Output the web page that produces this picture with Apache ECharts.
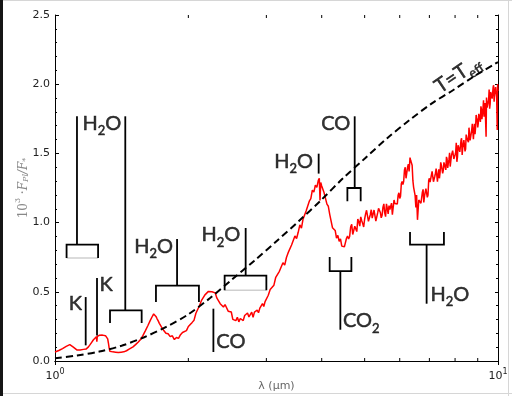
<!DOCTYPE html>
<html>
<head>
<meta charset="utf-8">
<script src="https://cdn.jsdelivr.net/npm/echarts@6/dist/echarts.min.js"></script>
<style>html,body{margin:0;padding:0;background:#fff;}#c{width:512px;height:396px;}</style>
</head>
<body>
<div id="c"></div>
<script>
// Planet/star flux ratio spectrum [lambda (um), 10^3 Fpl/F*]
const spectrum = [
[1.00,0.065],[1.01,0.070],[1.02,0.076],[1.03,0.082],[1.04,0.090],[1.05,0.098],[1.06,0.106],[1.07,0.113],[1.08,0.118],[1.09,0.117],
[1.10,0.100],[1.11,0.088],[1.12,0.080],[1.13,0.076],[1.14,0.080],[1.15,0.077],[1.16,0.084],[1.17,0.086],[1.172,0.070],[1.175,0.086],
[1.18,0.092],[1.19,0.102],[1.20,0.118],[1.21,0.135],[1.22,0.152],[1.23,0.165],[1.24,0.176],[1.243,0.140],[1.246,0.178],[1.25,0.182],
[1.26,0.186],[1.27,0.184],[1.28,0.187],[1.29,0.185],[1.30,0.183],[1.31,0.176],[1.315,0.160],[1.32,0.130],[1.325,0.095],[1.33,0.070],
[1.34,0.062],[1.35,0.066],[1.36,0.060],[1.37,0.064],[1.38,0.058],[1.39,0.062],[1.40,0.060],[1.41,0.064],[1.42,0.062],[1.43,0.066],
[1.44,0.070],[1.45,0.074],[1.46,0.080],[1.47,0.086],[1.48,0.092],[1.50,0.102],[1.52,0.118],[1.54,0.135],[1.56,0.155],[1.58,0.185],
[1.60,0.220],[1.62,0.255],[1.64,0.292],[1.66,0.325],[1.67,0.340],[1.68,0.338],[1.69,0.322],[1.70,0.305],[1.71,0.290],[1.72,0.272],
[1.73,0.262],[1.74,0.245],[1.75,0.232],[1.76,0.220],[1.77,0.212],[1.78,0.200],[1.79,0.196],
[1.80,0.197],[1.82,0.176],[1.84,0.182],[1.86,0.155],[1.88,0.170],[1.90,0.163],[1.92,0.190],[1.94,0.206],[1.96,0.204],[1.98,0.219],
[2.00,0.249],[2.02,0.247],[2.04,0.279],[2.06,0.295],[2.08,0.345],[2.10,0.357],[2.12,0.401],[2.14,0.436],[2.16,0.439],[2.18,0.478],
[2.20,0.478],[2.22,0.503],[2.24,0.493],[2.26,0.500],[2.28,0.506],
[2.30,0.492],[2.32,0.454],[2.34,0.465],[2.36,0.414],[2.38,0.424],[2.40,0.390],[2.42,0.408],[2.44,0.403],[2.46,0.360],[2.48,0.348],
[2.50,0.354],[2.52,0.301],[2.54,0.311],[2.56,0.292],[2.58,0.316],[2.60,0.283],[2.62,0.307],[2.64,0.320],[2.66,0.292],[2.68,0.329],
[2.70,0.316],[2.72,0.347],[2.74,0.318],[2.76,0.330],[2.78,0.353],[2.80,0.316],[2.82,0.353],[2.84,0.344],[2.86,0.367],[2.88,0.349],
[2.90,0.382],[2.92,0.374],[2.94,0.415],[2.96,0.394],[2.98,0.429],[3.00,0.420],
[3.03,0.475],[3.06,0.517],[3.09,0.508],[3.12,0.548],[3.15,0.605],[3.18,0.593],[3.21,0.648],[3.24,0.655],[3.27,0.710],[3.30,0.693],
[3.33,0.748],[3.36,0.783],[3.39,0.773],[3.42,0.838],[3.45,0.845],[3.48,0.903],[3.51,0.885],[3.54,0.930],[3.57,0.983],[3.60,0.960],
[3.63,1.025],[3.66,1.033],[3.69,1.085],[3.72,1.080],[3.75,1.155],[3.78,1.173],[3.81,1.235],[3.84,1.220],[3.87,1.270],[3.90,1.255],
[3.93,1.305],[3.95,1.320],[3.965,1.160],[3.98,1.290],[4.00,1.265],[4.02,1.270],[4.05,1.215],[4.08,1.210],[4.11,1.133],[4.14,1.118],
[4.17,1.060],[4.20,1.050],[4.23,0.963],[4.26,0.963],[4.29,0.943],[4.32,0.888],[4.35,0.908],[4.38,0.865],[4.41,0.883],[4.44,0.830],
[4.47,0.835],[4.50,0.825],
[4.525,0.813],[4.55,0.887],[4.575,0.903],[4.60,0.882],[4.625,0.900],[4.65,0.970],[4.675,0.988],[4.70,0.914],[4.725,0.913],[4.75,0.974],
[4.775,0.988],[4.80,0.935],[4.825,1.025],[4.85,1.008],[4.875,0.975],[4.90,1.041],[4.925,1.013],[4.95,0.993],[4.975,0.968],[5.00,1.026],
[5.025,1.063],[5.05,1.089],[5.075,1.048],[5.10,1.009],[5.125,1.013],[5.15,1.059],[5.175,1.093],[5.20,1.032],[5.225,1.038],[5.25,1.091],
[5.275,1.078],[5.30,1.011],[5.325,1.013],[5.35,1.070],[5.375,1.103],[5.40,1.093],[5.425,1.073],[5.45,1.035],[5.475,1.053],[5.50,1.112],
[5.525,1.135],[5.55,1.071],[5.575,1.043],[5.60,1.135],[5.625,1.103],[5.65,1.063],[5.675,1.123],[5.70,1.095],[5.725,1.088],[5.75,1.141],
[5.775,1.058],[5.80,1.051],[5.825,1.163],[5.85,1.138],[5.875,1.140],[5.90,1.127],[5.925,1.135],[5.95,1.197],[5.975,1.215],[6.00,1.174],
[6.025,1.191],[6.05,1.280],[6.075,1.298],[6.10,1.275],[6.125,1.299],[6.15,1.380],[6.175,1.400],[6.20,1.320],[6.225,1.325],[6.25,1.400],
[6.275,1.422],[6.30,1.370],[6.33,1.470],[6.35,1.450],[6.375,1.444],[6.40,1.415],[6.425,1.303],[6.45,1.255],[6.475,1.246],[6.50,1.195],
[6.525,1.110],[6.55,1.200],[6.58,1.020],[6.60,1.085],[6.625,1.163],[6.65,1.155],[6.675,1.161],[6.70,1.140],[6.725,1.137],[6.75,1.220],
[6.775,1.240],[6.80,1.145],[6.825,1.191],[6.85,1.220],[6.875,1.245],[6.90,1.255],[6.925,1.183],[6.95,1.200],[6.975,1.304],[7.00,1.320],
[7.025,1.293],[7.05,1.290],[7.075,1.280],[7.10,1.370],[7.125,1.381],[7.15,1.295],[7.175,1.286],[7.20,1.335],[7.225,1.357],[7.25,1.390],
[7.275,1.383],[7.30,1.295],[7.325,1.349],[7.35,1.385],[7.375,1.320],[7.40,1.360],[7.425,1.435],[7.45,1.415],[7.475,1.401],[7.50,1.355],
[7.525,1.378],[7.55,1.435],[7.575,1.438],[7.60,1.400],[7.625,1.381],[7.65,1.475],[7.675,1.458],[7.70,1.395],[7.725,1.429],[7.75,1.455],
[7.775,1.505],[7.80,1.405],[7.825,1.410],[7.85,1.485],[7.875,1.487],[7.90,1.520],[7.925,1.524],[7.95,1.460],[7.975,1.468],[8.00,1.490],
[8.025,1.507],[8.05,1.577],[8.075,1.439],[8.10,1.473],[8.125,1.559],[8.15,1.543],[8.175,1.543],[8.20,1.511],[8.225,1.501],[8.25,1.593],
[8.275,1.609],[8.30,1.489],[8.325,1.541],[8.35,1.571],[8.375,1.596],[8.40,1.605],[8.425,1.515],[8.45,1.531],[8.475,1.636],[8.50,1.637],
[8.525,1.600],[8.55,1.593],[8.575,1.580],[8.60,1.686],[8.625,1.697],[8.65,1.594],[8.675,1.586],[8.70,1.645],[8.725,1.672],[8.75,1.714],
[8.775,1.707],[8.80,1.603],[8.825,1.670],[8.85,1.714],[8.875,1.639],[8.90,1.687],[8.925,1.778],[8.95,1.756],[8.975,1.741],[9.00,1.687],
[9.025,1.717],[9.05,1.786],[9.075,1.790],[9.10,1.747],[9.125,1.727],[9.15,1.840],[9.175,1.820],[9.20,1.747],[9.225,1.790],[9.25,1.822],
[9.275,1.883],[9.30,1.765],[9.325,1.774],[9.35,1.864],[9.375,1.864],[9.40,1.620],[9.42,1.904],[9.45,1.830],[9.475,1.842],[9.50,1.869],
[9.525,1.889],[9.55,1.962],[9.575,1.823],[9.60,1.858],[9.625,1.944],[9.65,1.928],[9.675,1.928],[9.70,1.896],[9.725,1.886],[9.75,1.978],
[9.775,1.993],[9.80,1.874],[9.825,1.925],[9.85,1.956],[9.875,1.979],[9.90,1.985],[9.93,1.906],[9.96,1.670],[9.98,2.002],[10.0,1.950]
];

// T = Teff reference curve
const tEffCurve = [
[1.000,0.020],[1.122,0.040],[1.259,0.068],[1.413,0.110],[1.585,0.170],[1.778,0.245],[1.995,0.335],
[2.239,0.455],[2.512,0.590],[2.818,0.725],[3.162,0.865],[3.548,1.010],[3.981,1.160],[4.467,1.320],
[5.012,1.465],[5.623,1.610],[6.310,1.740],[7.079,1.860],[7.943,1.960],[8.913,2.065],[10.0,2.160]
];

// Feature marker shapes (black)
const markerShapes = [
[[1.121,1.768],[1.121,0.841]],
[[1.062,0.744],[1.062,0.841],[1.251,0.841],[1.251,0.744]],
[[1.441,1.768],[1.441,0.366]],
[[1.331,0.275],[1.331,0.366],[1.569,0.366],[1.569,0.275]],
[[1.173,0.462],[1.173,0.113]],
[[1.244,0.600],[1.244,0.185]],
[[1.886,0.881],[1.886,0.544]],
[[1.690,0.426],[1.690,0.544],[2.113,0.544],[2.113,0.426]],
[[2.278,0.378],[2.278,0.065]],
[[2.694,0.961],[2.694,0.617]],
[[2.415,0.511],[2.415,0.617],[3.000,0.617],[3.000,0.511]],
[[3.937,1.498],[3.937,1.354]],
[[4.748,1.768],[4.748,1.250]],
[[4.571,1.154],[4.571,1.250],[4.898,1.250],[4.898,1.154]],
[[4.169,0.751],[4.169,0.650],[4.667,0.650],[4.667,0.751]],
[[4.407,0.650],[4.407,0.226]],
[[6.330,0.932],[6.330,0.841],[7.550,0.841],[7.550,0.932]],
[[6.900,0.841],[6.900,0.414]]
];
// faint grey bracket bottoms
const greyShapes = [
[[1.062,0.744],[1.251,0.744]],
[[2.415,0.511],[3.000,0.511]]
];

// labels: [text(rich), lambda, value, side]
const featureLabels = [
['{n|H}{s|2}{n|O}', 1.153, 1.703, 'right'],
['{n|K}', 1.151, 0.402, 'left'],
['{n|K}', 1.261, 0.540, 'right'],
['{n|H}{s|2}{n|O}', 1.847, 0.816, 'left'],
['{n|CO}', 2.313, 0.125, 'right'],
['{n|H}{s|2}{n|O}', 2.620, 0.896, 'left'],
['{n|H}{s|2}{n|O}', 3.823, 1.426, 'left'],
['{n|CO}', 4.642, 1.700, 'left'],
['{n|CO}{s|2}', 4.467, 0.275, 'right'],
['{n|H}{s|2}{n|O}', 7.040, 0.467, 'right']
];
const teffLabel = ['{t|T=T}{e|eff}', 8.155, 2.060];

const xMinorTicks = [2,3,4,5,6,7,8,9];
const yTickLabels = ['0.0','0.5','1.0','1.5','2.0','2.5'];

const tb = {textBorderColor:'#000', textBorderWidth:0.5};
const labelRich = {
  n: Object.assign({fontFamily:'Lato', fontSize:20, color:'#000', lineHeight:24, verticalAlign:'top'}, tb),
  s: Object.assign({fontFamily:'Lato', fontSize:13, color:'#000', lineHeight:14, verticalAlign:'bottom'}, tb),
  t: Object.assign({fontFamily:'Lato', fontSize:20, color:'#000', lineHeight:24, verticalAlign:'top'}, tb),
  e: Object.assign({fontFamily:'Lato', fontSize:13, color:'#000', lineHeight:14, verticalAlign:'bottom'}, tb)
};

const chart = echarts.init(document.getElementById('c'), null, {renderer:'canvas'});

const xCommon = {
  type:'log', logBase:10, min:1, max:10,
  axisLine:{show:true, lineStyle:{color:'#000', width:1}},
  axisTick:{show:true, inside:true, length:4, lineStyle:{color:'#000'}},
  splitLine:{show:false}, minorTick:{show:false}, minorSplitLine:{show:false}
};
const yCommon = {
  type:'value', min:0, max:2.5, interval:0.5,
  axisLine:{show:true, lineStyle:{color:'#000', width:1}},
  axisTick:{show:true, inside:true, length:4, lineStyle:{color:'#000'}},
  minorTick:{show:true, splitNumber:5, length:2, lineStyle:{color:'#000'}},
  splitLine:{show:false}
};

chart.setOption({
  animation:false,
  backgroundColor:'#fff',
  grid:{left:55, right:14, top:15, bottom:35, containLabel:false, outerBoundsMode:'none'},
  graphic:[
    {type:'rect', left:0, top:0, shape:{x:0,y:0,width:3,height:396}, style:{fill:'#151515'}, z:100},
    {type:'line', shape:{x1:3,y1:0.5,x2:512,y2:0.5}, style:{stroke:'#d6d6d6', lineWidth:1}, z:100},
    {type:'line', shape:{x1:508.5,y1:0,x2:508.5,y2:396}, style:{stroke:'#d6d6d6', lineWidth:1}, z:100},
    {type:'line', shape:{x1:3,y1:393.5,x2:512,y2:393.5}, style:{stroke:'#d6d6d6', lineWidth:1}, z:100}
  ],
  xAxis:[
    Object.assign({}, xCommon, {
      position:'bottom',
      axisLabel:{show:true, margin:7, color:'#222',
        formatter:function(v){ return v < 5 ? '{b|10}{s|0}' : '{b|10}{s|1}'; },
        rich:{
          b:{fontFamily:'DejaVu Sans', fontSize:11, color:'#222', lineHeight:14, verticalAlign:'bottom'},
          s:{fontFamily:'DejaVu Sans', fontSize:8, color:'#222', lineHeight:8, verticalAlign:'top'}
        }},
      name:'λ (μm)', nameLocation:'middle', nameGap:20, nameMoveOverlap:false,
      nameTextStyle:{fontFamily:'DejaVu Sans', fontSize:11, color:'#666'}
    }),
    Object.assign({}, xCommon, {position:'top', axisLabel:{show:false}})
  ],
  yAxis:[
    Object.assign({}, yCommon, {
      position:'left',
      axisLabel:{show:true, margin:5, fontFamily:'DejaVu Sans', fontSize:11, color:'#222',
        formatter:function(v){ return yTickLabels[Math.round(v/0.5)]; }},
      name:'{a|10}{p|3}{a| ·}{i|F}{q|Pl}{i|/F}{q|*}', nameLocation:'middle', nameGap:25, nameRotate:90, nameMoveOverlap:false,
      nameTextStyle:{color:'#888', rich:{
        a:{fontFamily:'DejaVu Serif', fontSize:12, color:'#888', lineHeight:16, verticalAlign:'bottom'},
        p:{fontFamily:'DejaVu Serif', fontSize:8, color:'#888', lineHeight:8, verticalAlign:'top'},
        i:{fontFamily:'DejaVu Serif', fontStyle:'italic', fontSize:12, color:'#888', lineHeight:16, verticalAlign:'bottom'},
        q:{fontFamily:'DejaVu Serif', fontStyle:'italic', fontSize:8, color:'#888', lineHeight:8, verticalAlign:'bottom'}
      }}
    }),
    Object.assign({}, yCommon, {position:'right', axisLabel:{show:false},
      axisTick:{show:true, inside:true, length:3, lineStyle:{color:'#000'}}})
  ],
  series:[
    {type:'line', data:spectrum, showSymbol:false, symbol:'none', silent:true, z:3,
      lineStyle:{color:'#ff0000', width:1.5}},
    {type:'line', data:tEffCurve, showSymbol:false, symbol:'none', silent:true, smooth:0.3, z:4,
      lineStyle:{color:'#000', width:2, type:[7,4]}},
    {type:'lines', coordinateSystem:'cartesian2d', polyline:true, silent:true, z:5,
      data:greyShapes.map(function(c){return {coords:c};}),
      lineStyle:{color:'#cfcfcf', width:1.5, opacity:1}},
    {type:'lines', coordinateSystem:'cartesian2d', polyline:true, silent:true, z:6,
      data:markerShapes.map(function(c){return {coords:c};}),
      lineStyle:{color:'#000', width:1.8, opacity:1}},
    {type:'scatter', symbolSize:0, silent:true, z:7,
      data:featureLabels.map(function(l){
        return {value:[l[1], l[2]], label:{show:true, formatter:l[0], position:l[3], distance:0, rich:labelRich}};
      })},
    {type:'scatter', symbolSize:0, silent:true, z:7,
      data:[{value:[teffLabel[1], teffLabel[2]], label:{show:true, formatter:teffLabel[0], position:'inside', rotate:34, rich:labelRich}}]},
    {type:'custom', silent:true, z:8, clip:false,
      data:xMinorTicks.map(function(v){return [v, 0];}),
      renderItem:function(params, api){
        const b = api.coord([api.value(0), 0]);
        const t = api.coord([api.value(0), 2.5]);
        return {type:'group', children:[
          {type:'line', shape:{x1:b[0], y1:b[1], x2:b[0], y2:b[1]-3}, style:{stroke:'#000', lineWidth:1}},
          {type:'line', shape:{x1:t[0], y1:t[1], x2:t[0], y2:t[1]+3}, style:{stroke:'#000', lineWidth:1}}
        ]};
      }}
  ]
});
</script>
</body>
</html>
